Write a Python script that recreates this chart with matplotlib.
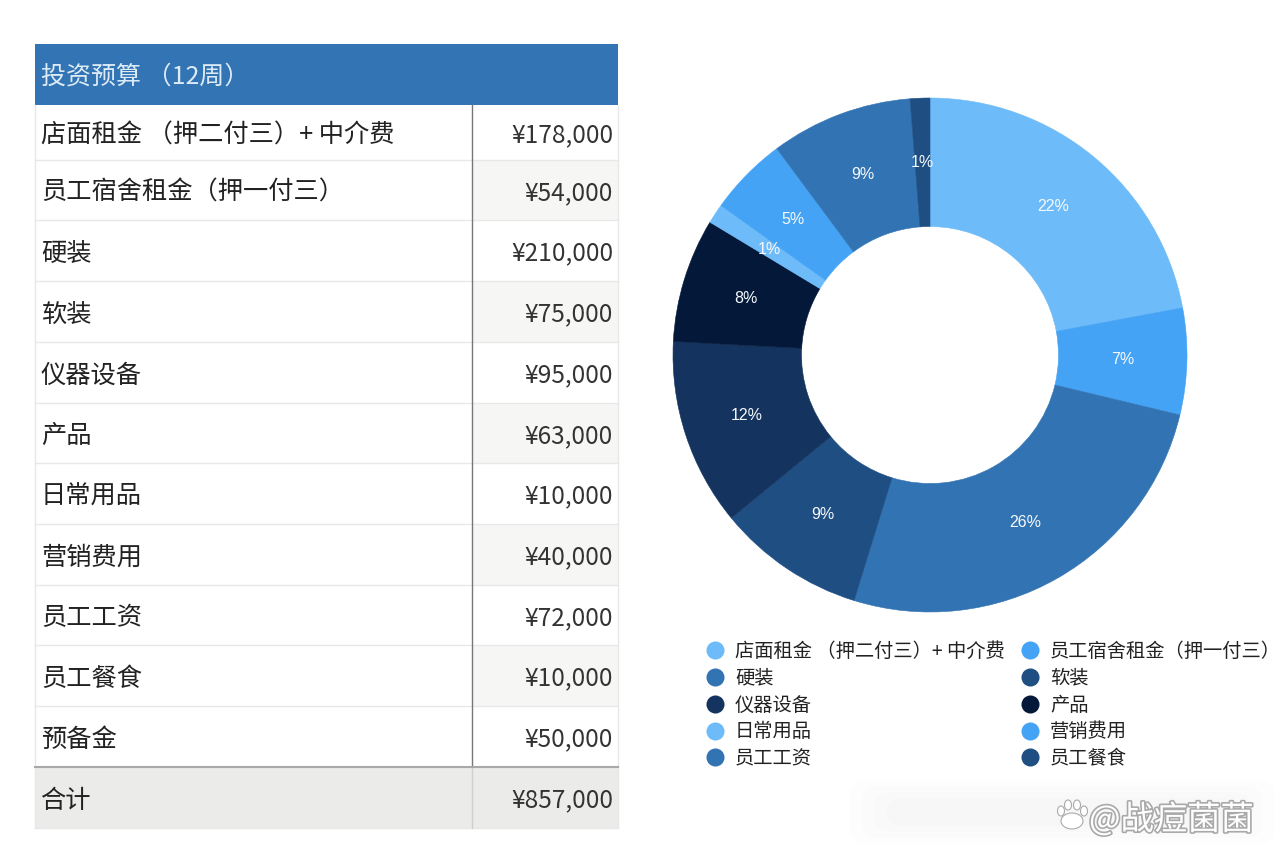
"""Investment budget table with a donut chart and legend."""

import matplotlib
matplotlib.use("Agg")
import matplotlib.pyplot as plt
import matplotlib.patheffects as pe
from matplotlib.lines import Line2D
from matplotlib.patches import Ellipse, FancyBboxPatch, Rectangle

plt.rcParams["font.family"] = "Noto Sans CJK SC"

W, H = 1280, 860

TITLE = "投资预算 （12周）"
ITEMS = ["店面租金 （押二付三）+ 中介费", "员工宿舍租金（押一付三）", "硬装", "软装",
         "仪器设备", "产品", "日常用品", "营销费用", "员工工资", "员工餐食", "预备金"]
AMOUNTS = [178000, 54000, 210000, 75000, 95000, 63000, 10000, 40000, 72000, 10000, 50000]
TOTAL_LABEL = "合计"
TOTAL = 857000

LEGEND_LABELS = ["店面租金 （押二付三）+ 中介费", "员工宿舍租金（押一付三）", "硬装", "软装",
                 "仪器设备", "产品", "日常用品", "营销费用", "员工工资", "员工餐食"]
PIE_VALUES = [178000, 54000, 210000, 75000, 95000, 63000, 10000, 40000, 72000, 10000]
PIE_COLORS = ["#6DBBF8", "#45A3F5", "#3274B3", "#1F4E82", "#14345F",
              "#04193A", "#6DBBF8", "#45A3F5", "#3274B3", "#1F4E82"]

WATERMARK = "@战痘菌菌"

# table geometry, pixels
ROW_EDGES = [105, 160, 220, 281, 342, 403, 463, 524, 585, 645, 706, 767, 828]
LEFT, SPLIT, RIGHT = 35, 472, 618
HEAD_TOP = 44

fig = plt.figure(figsize=(W / 100, H / 100), dpi=100, facecolor="white")
ax = fig.add_axes([0, 0, 1, 1])
ax.set_xlim(0, W)
ax.set_ylim(H, 0)
ax.axis("off")

# ---------------------------------------------------------------------- #
# Table                                                                  #
# ---------------------------------------------------------------------- #
ax.add_patch(Rectangle((LEFT, HEAD_TOP), RIGHT - LEFT, ROW_EDGES[0] - HEAD_TOP,
                       fc="#3274B4", ec="none"))
ax.text(LEFT + 6, (HEAD_TOP + ROW_EDGES[0]) / 2 - 1, TITLE, color="#DCEBF6",
        fontsize=18, va="center_baseline", ha="left")

labels = ITEMS + [TOTAL_LABEL]
values = AMOUNTS + [TOTAL]
for i, (name, val) in enumerate(zip(labels, values)):
    y0, y1 = ROW_EDGES[i], ROW_EDGES[i + 1]
    if i == len(ITEMS):
        ax.add_patch(Rectangle((LEFT, y0), RIGHT - LEFT, y1 - y0, fc="#EBEBEA", ec="none"))
    elif i % 2 == 1:
        ax.add_patch(Rectangle((SPLIT, y0), RIGHT - SPLIT, y1 - y0, fc="#F6F6F5", ec="none"))
    ax.text(LEFT + 6, (y0 + y1) / 2, name, color="#222222", fontsize=18.2,
            va="center_baseline", ha="left")
    ax.text(RIGHT - 5, (y0 + y1) / 2, f"¥{val:,}", color="#333333", fontsize=17.6,
            va="center_baseline", ha="right")

for y in ROW_EDGES[1:]:
    ax.plot([LEFT, RIGHT], [y, y], color="#E8E8E8", lw=1)
ax.plot([LEFT, LEFT], [ROW_EDGES[0], ROW_EDGES[-1]], color="#E8E8E8", lw=1)
ax.plot([RIGHT, RIGHT], [ROW_EDGES[0], ROW_EDGES[-1]], color="#E8E8E8", lw=1)
ax.plot([SPLIT, SPLIT], [ROW_EDGES[0], ROW_EDGES[-2]], color="#777777", lw=1)
ax.plot([SPLIT, SPLIT], [ROW_EDGES[-2], ROW_EDGES[-1]], color="#CFCFCF", lw=1)
ax.plot([LEFT, RIGHT], [ROW_EDGES[-2], ROW_EDGES[-2]], color="#A8A8A8", lw=1.5)

# ---------------------------------------------------------------------- #
# Donut                                                                  #
# ---------------------------------------------------------------------- #
cx, cy, r = 930, 355, 257
ax_pie = fig.add_axes([(cx - r) / W, 1 - (cy + r) / H, 2 * r / W, 2 * r / H])
wedges, _, pct = ax_pie.pie(PIE_VALUES, colors=PIE_COLORS, startangle=90, counterclock=False,
                            radius=1, wedgeprops=dict(width=0.5, linewidth=0.4),
                            autopct="%.0f%%", pctdistance=0.75,
                            textprops=dict(color="#F6F9FC", fontsize=11.5, fontfamily="Liberation Sans"))
for w, c in zip(wedges, PIE_COLORS):
    w.set_edgecolor(c)  # hides the antialias seams between slices
ax_pie.set_xlim(-1, 1)
ax_pie.set_ylim(-1, 1)

# ---------------------------------------------------------------------- #
# Legend (reference fills row by row, matplotlib column by column)       #
# ---------------------------------------------------------------------- #
handles = [Line2D([], [], ls="none", marker="o", ms=13, mfc=c, mec="none") for c in PIE_COLORS]
order = list(range(0, 10, 2)) + list(range(1, 10, 2))
fig.legend([handles[i] for i in order], [LEGEND_LABELS[i] for i in order],
           ncol=2, frameon=False, fontsize=13.9, labelcolor="#222222",
           loc="upper left", bbox_to_anchor=(0.5508, 1 - 641 / H), borderaxespad=0, borderpad=0,
           handlelength=1.0, handletextpad=0.55, columnspacing=0.8, labelspacing=0.30)

# ---------------------------------------------------------------------- #
# Watermark                                                              #
# ---------------------------------------------------------------------- #
for pad, a in [(0, 0.012), (12, 0.012), (24, 0.012), (36, 0.012)]:
    ax.add_patch(FancyBboxPatch((850 + pad, 780 + pad / 2), 425 - 2 * pad, 64 - pad,
                                boxstyle="round,pad=0,rounding_size=18",
                                fc="#555555", ec="none", alpha=a))
halo = [pe.withStroke(linewidth=2.4, foreground="#A9A9A9")]
ax.text(1089, 816, WATERMARK, color="white", fontsize=24, va="center_baseline", ha="left",
        path_effects=halo)
for (px, py, w, h) in [(1061, 811, 7, 10), (1068, 805, 7, 10), (1077, 805, 7, 10), (1084, 811, 7, 10),
                       (1072, 821, 22, 16)]:
    ax.add_patch(Ellipse((px, py), w, h, fc="white", ec="#A9A9A9", lw=0.8))

fig.savefig("out.png", dpi=100, facecolor="white")
